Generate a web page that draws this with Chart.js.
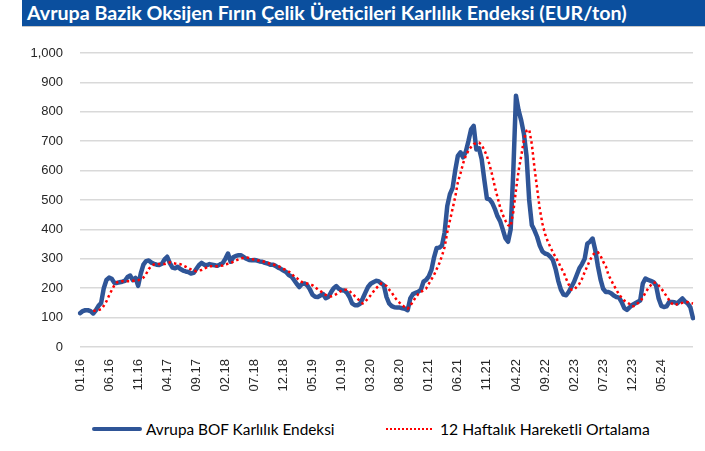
<!DOCTYPE html>
<html lang="tr">
<head>
<meta charset="UTF-8">
<title>Avrupa Bazik Oksijen Fırın Çelik Üreticileri Karlılık Endeksi</title>
<script src="https://cdn.jsdelivr.net/npm/chart.js"></script>
<style>
    body {
        margin: 0;
        background: #fff;
        font-family: 'Liberation Sans', Arial, sans-serif;
    }
    .wrap {
        position: relative;
        width: 705px;
        height: 451px;
        overflow: hidden;
    }
    .title {
        position: absolute;
        left: 22px;
        right: 0;
        top: 0;
        height: 26px;
        background: #0b4f9e;
        border-bottom: 1px solid #c8c8c8;
        color: #fff;
        font-family: Lato, sans-serif;
        font-weight: 700;
        font-size: 18px;
        line-height: 26px;
        padding-left: 5px;
        white-space: nowrap;
    }
    .chart-box {
        position: absolute;
        left: 0;
        top: 0;
        width: 705px;
        height: 397px;
    }
    .legend-item {
        position: absolute;
        top: 420px;
        height: 18px;
        font-family: Lato, sans-serif;
        font-size: 14px;
        line-height: 18px;
        color: #000;
        white-space: nowrap;
    }
    .swatch {
        position: absolute;
    }
</style>
</head>
<body>
<div class="wrap">
    <div class="chart-box"><canvas id="chart" width="705" height="397"></canvas></div>
    <div class="title" id="title">Avrupa Bazik Oksijen Fırın Çelik Üreticileri Karlılık Endeksi (EUR/ton)</div>

    <!-- Legend -->
    <div class="swatch" style="left:92px; top:427px; width:50px; height:4px; border-radius:2px; background:#2f5597;"></div>
    <div class="legend-item" id="leg1" style="left:146px;">Avrupa BOF Karlılık Endeksi</div>
    <div class="swatch" style="left:386px; top:428px; width:46px; border-top:2.5px dotted #ff0000;"></div>
    <div class="legend-item" id="leg2" style="left:440px;">12 Haftalık Hareketli Ortalama</div>
</div>

<script>
    // Tick labels, one every 11 points (two-week steps)
    const tickLabels = ["01.16", "06.16", "11.16", "04.17", "09.17", "02.18", "07.18", "12.18", "05.19", "10.19",
        "03.20", "08.20", "01.21", "06.21", "11.21", "04.22", "09.22", "02.23", "07.23", "12.23", "05.24"];
    const tickStep = 11;

    // Avrupa BOF Karlılık Endeksi (EUR/ton), every two weeks
    const bofIndex = [
        115, 122, 125, 125, 122, 114, 125, 140, 150, 200,
        228, 236, 232, 218, 218, 220, 222, 225, 238, 243,
        227, 235, 208, 250, 280, 292, 294, 287, 283, 280,
        279, 283, 298, 307, 285, 270, 268, 273, 265, 260,
        257, 255, 250, 252, 265, 278, 286, 280, 278, 282,
        280, 278, 276, 281, 285, 300, 318, 290, 305, 310,
        312, 312, 306, 300, 296, 295, 296, 294, 291, 290,
        286, 284, 280, 280, 276, 270, 266, 260, 255, 245,
        240, 228, 215, 204, 214, 216, 210, 196, 178, 171,
        170, 175, 180, 166, 170, 186, 200, 207, 198, 193,
        192, 185, 170, 148, 142, 142, 147, 165, 185, 204,
        215, 220, 225, 224, 216, 210, 170, 148, 139, 135,
        134, 134, 132, 130, 125, 165, 180, 184, 188, 195,
        222, 228, 240, 262, 305, 337, 338, 345, 390, 480,
        520, 540, 600, 650, 662, 645, 664, 700, 740, 752,
        672, 676, 640, 570, 505, 502, 490, 470, 445, 428,
        400, 370, 358, 400, 600, 855, 805, 770, 725, 650,
        500, 415, 397, 375, 345, 325, 318, 315, 307, 295,
        265, 225, 195, 178, 176, 188, 205, 222, 245, 268,
        282, 300, 352, 358, 369, 330, 275, 230, 198, 187,
        187, 183, 175, 170, 168, 153, 132, 126, 135, 143,
        148, 153, 158, 216, 233, 228, 225, 221, 210, 165,
        140, 136, 138, 153, 153, 152, 148, 157, 165, 155,
        148, 135, 98
    ];

    // 12 Haftalık Hareketli Ortalama
    const movingAvg = [
        null, null, null, null, null, 122, 124, 126, 128, 140,
        155, 175, 193, 210, 220, 223, 224, 224, 224, 224,
        225, 225, 227, 230, 236, 248, 265, 275, 281, 282,
        282, 282, 282, 285, 288, 286, 284, 283, 282, 277,
        273, 268, 264, 260, 258, 260, 262, 267, 271, 275,
        275, 275, 275, 276, 277, 281, 283, 285, 290, 294,
        298, 301, 304, 305, 303, 299, 297, 295, 293, 292,
        289, 286, 283, 281, 278, 275, 271, 266, 261, 256,
        252, 240, 235, 227, 221, 218, 216, 212, 210, 203,
        196, 190, 184, 177, 173, 172, 175, 180, 186, 192,
        195, 195, 190, 182, 173, 165, 155, 148, 155, 165,
        176, 188, 199, 208, 216, 213, 208, 195, 185, 170,
        159, 150, 142, 135, 130, 140, 155, 168, 180, 187,
        193, 199, 215, 230, 245, 265, 285, 310, 340, 390,
        430, 470, 510, 560, 590, 625, 650, 668, 680, 690,
        693, 695, 688, 670, 650, 620, 585, 545, 510, 475,
        450, 430, 415, 410, 460, 534, 600, 650, 705, 735,
        740, 690, 610, 540, 470, 420, 385, 360, 340, 322,
        305, 290, 270, 255, 232, 212, 195, 195, 205, 215,
        232, 255, 275, 295, 312, 322, 322, 310, 290, 275,
        245, 228, 210, 195, 178, 168, 158, 152, 146, 138,
        140, 148, 155, 168, 185, 199, 210, 220, 218, 210,
        198, 187, 172, 160, 148, 142, 146, 148, 150, 152,
        153, 150, 148
    ];

    const labels = bofIndex.map((_, i) => i % tickStep === 0 ? (tickLabels[i / tickStep] || '') : '');

    // shrink/grow a text element so it spans a given width
    function fitText(el, width) {
        const cs = getComputedStyle(el);
        const c = document.createElement('canvas').getContext('2d');
        const size = parseFloat(cs.fontSize);
        c.font = cs.fontWeight + ' ' + size + 'px ' + cs.fontFamily;
        const w = c.measureText(el.textContent).width;
        el.style.fontSize = (size * width / w).toFixed(2) + 'px';
    }
    fitText(document.getElementById('title'), 600);
    fitText(document.getElementById('leg1'), 189);
    fitText(document.getElementById('leg2'), 210);

    const tickFont = { family: "'Liberation Sans', Arial, sans-serif", size: 13 };

    new Chart(document.getElementById('chart'), {
        type: 'line',
        data: {
            labels: labels,
            datasets: [
                {
                    label: '12 Haftalık Hareketli Ortalama',
                    data: movingAvg,
                    borderColor: '#ff0000',
                    borderWidth: 2.5,
                    borderDash: [2.5, 3],
                    pointRadius: 0,
                    tension: 0,
                    order: 0
                },
                {
                    label: 'Avrupa BOF Karlılık Endeksi',
                    data: bofIndex,
                    borderColor: '#2f5597',
                    borderWidth: 4.5,
                    borderJoinStyle: 'round',
                    borderCapStyle: 'round',
                    pointRadius: 0,
                    tension: 0,
                    order: 1
                }
            ]
        },
        options: {
            responsive: false,
            animation: false,
            layout: { autoPadding: false, padding: { top: 53, right: 12, left: 0, bottom: 0 } },
            plugins: {
                legend: { display: false },
                tooltip: { enabled: false }
            },
            scales: {
                x: {
                    grid: { display: false, drawTicks: false },
                    border: { display: false },
                    ticks: {
                        autoSkip: false,
                        minRotation: 90,
                        maxRotation: 90,
                        padding: 12,
                        color: '#262626',
                        font: tickFont,
                        callback: (v, i) => labels[i]
                    },
                    afterFit: s => {
                        s.height = 50;
                        s.paddingLeft = 0;
                        s.paddingRight = 0;
                    }
                },
                y: {
                    min: 0,
                    max: 1000,
                    ticks: {
                        stepSize: 100,
                        padding: 17,
                        color: '#262626',
                        font: tickFont,
                        callback: v => v.toLocaleString('en-US')
                    },
                    grid: { color: '#d9d9d9', lineWidth: 1.5, drawTicks: false },
                    border: { display: false },
                    afterFit: s => {
                        s.width = 80;
                        s.paddingTop = 0;
                        s.paddingBottom = 0;
                    }
                }
            }
        }
    });
</script>
</body>
</html>
